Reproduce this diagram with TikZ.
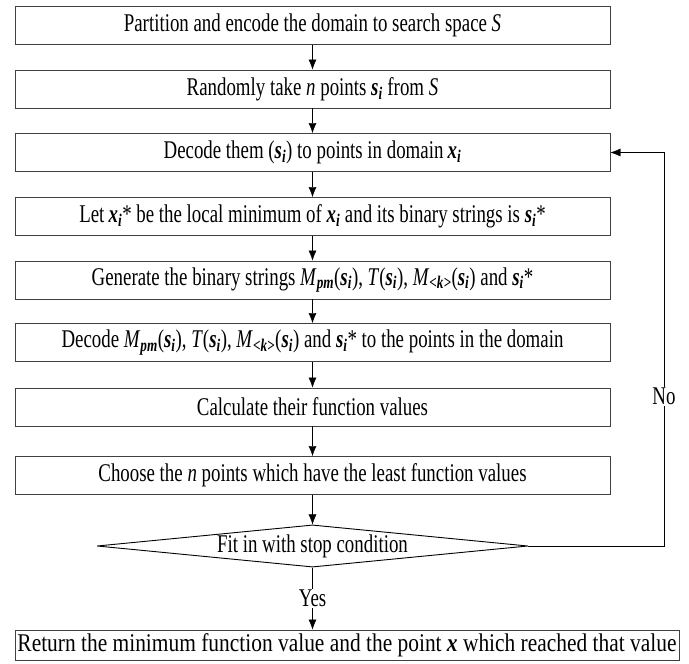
\documentclass[tikz,border=0pt]{standalone}
\usepackage{fontspec}
\setmainfont{Liberation Serif}[FakeStretch=0.74]
\newfontfamily\widefont{Liberation Serif}[FakeStretch=0.84]
\usepackage{tikz}
\usetikzlibrary{shapes.geometric, arrows.meta}

\newcommand{\vsi}{\textbf{\textit{s}}\textsubscript{\textbf{\textit{i}}}}
\newcommand{\vxi}{\textbf{\textit{x}}\textsubscript{\textbf{\textit{i}}}}
\newcommand{\Mpm}{\textit{M}\textsubscript{\textbf{\textit{pm}}}}
\newcommand{\Mk}{\textit{M}\textsubscript{\textbf{\textit{\textless k\textgreater}}}}

\begin{document}
\begin{tikzpicture}[x=1pt, y=-1pt, >={Latex[length=10pt,width=8pt]},
    font=\fontsize{25.5}{28}\selectfont,
    process/.style={draw=black!75, line width=0.9pt, minimum width=595pt,
        minimum height=38pt, inner sep=0pt},
    decision/.style={draw, line width=0.9pt, shape=diamond, aspect=10,
        minimum width=431pt, minimum height=42pt, inner sep=0pt}]
    \useasboundingbox (0,0) rectangle (689,664);

    % 1. Các bước
    \node[process] (partition) at (312.5,25.5) {Partition and encode the domain to search space \textit{S}};
    \node[process] (sample) at (312.5,89) {Randomly take \textit{n} points \vsi{} from \textit{S}};
    \node[process] (decode) at (312.5,152.5) {Decode them (\vsi) to points in domain\,\vxi};
    \node[process] (localmin) at (312.5,216.5) {Let\,\vxi* be the local minimum of \vxi{} and its binary strings is \vsi*};
    \node[process] (generate) at (312.5,280) {Generate the binary strings \Mpm(\vsi), \textit{T}(\vsi), \Mk(\vsi) and \vsi*};
    \node[process] (decodeall) at (312.5,342.5) {Decode \Mpm(\vsi), \textit{T}(\vsi), \Mk(\vsi) and \vsi* to the points in the domain};
    \node[process] (evaluate) at (312.5,407) {Calculate their function values};
    \node[process] (select) at (312.5,475.5) {Choose the \textit{n} points which have the least function values};
    \node[decision] (stop) at (312.5,546) {Fit in with stop condition};
    \node[process, minimum width=664pt, minimum height=30pt,
        font=\widefont\fontsize{25.5}{28}\selectfont] (result) at (347,645)
        {Return the minimum function value and the point \textbf{\textit{x}} which reached that value};

    % 2. Mũi tên
    \foreach \a/\b in {partition/sample, sample/decode, decode/localmin, localmin/generate,
        generate/decodeall, decodeall/evaluate, evaluate/select, select/stop} {
        \draw[->] (\a) -- (\b);
    }
    \draw[->] (stop.south) -- node[fill=white, inner sep=1pt] {Yes} (stop.south |- result.north);

    % 3. Vòng lặp
    \coordinate (loop) at (664,546);
    \draw[->] (stop.east) -- (loop) -- node[pos=0.38, fill=white, inner sep=1pt] {No}
        (loop |- decode.east) -- (decode.east);
\end{tikzpicture}
\end{document}
